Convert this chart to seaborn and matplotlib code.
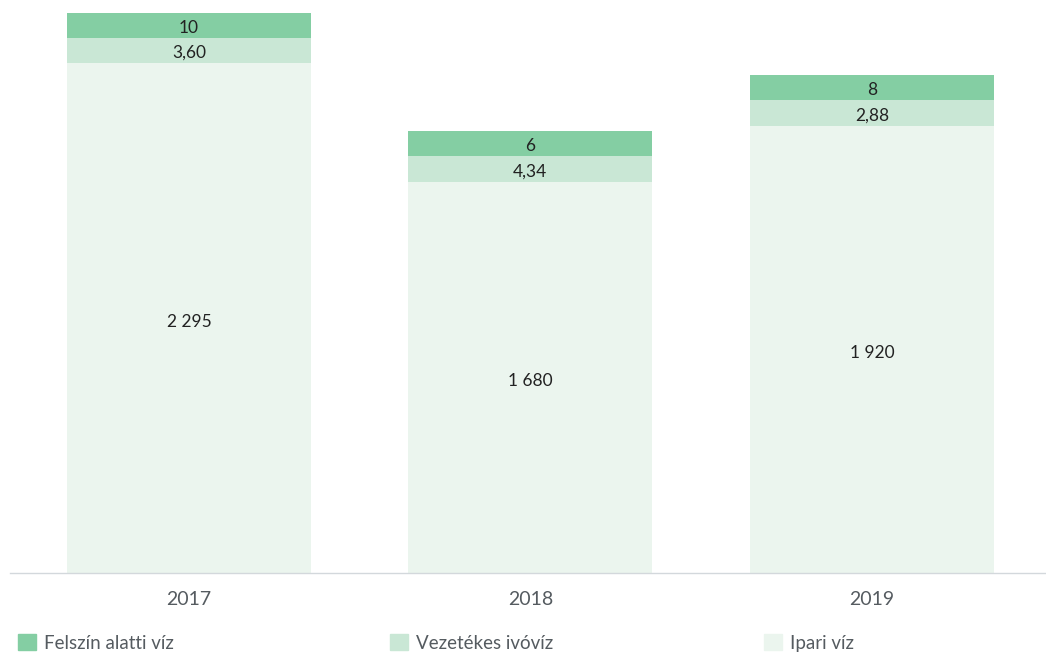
import matplotlib
matplotlib.use("Agg")
import matplotlib.pyplot as plt
import matplotlib.patches as mpatches
import seaborn as sns
import pandas as pd

# Categories and series labels
years = ["2017", "2018", "2019"]
series_names = ["Felszín alatti víz", "Vezetékes ivóvíz", "Ipari víz"]

# Value labels shown in the chart
felszin_labels = ["10", "6", "8"]
vezetekes_labels = ["3,60", "4,34", "2,88"]
ipari_labels = ["2 295", "1 680", "1 920"]

# Displayed segment heights (in the chart's visual units)
ipari_heights = [2295, 1760, 2012]
vezetekes_heights = [113, 117, 117]
felszin_heights = [113, 113, 113]

colors = {"Felszín alatti víz": "#84CEA3", "Vezetékes ivóvíz": "#C9E7D5", "Ipari víz": "#EBF5EE"}

sns.set_theme(style="white")
plt.rcParams["font.family"] = ["Lato", "DejaVu Sans"]

df = pd.DataFrame({
    "year": years,
    "ipari": ipari_heights,
    "vezetekes": vezetekes_heights,
    "felszin": felszin_heights,
})
df["b2"] = df["ipari"]
df["b3"] = df["ipari"] + df["vezetekes"]

fig = plt.figure(figsize=(10.46, 6.55), dpi=100)
ax = fig.add_axes([10 / 1046, 82 / 655, 1036 / 1046, 573 / 655])

bw = 0.714
sns.barplot(data=df, x="year", y="ipari", color=colors["Ipari víz"], width=bw,
            saturation=1, ax=ax, order=years, linewidth=0, edgecolor="none")
sns.barplot(data=df, x="year", y="vezetekes", bottom=df["b2"], color=colors["Vezetékes ivóvíz"],
            width=bw, saturation=1, ax=ax, order=years, linewidth=0, edgecolor="none")
sns.barplot(data=df, x="year", y="felszin", bottom=df["b3"], color=colors["Felszín alatti víz"],
            width=bw, saturation=1, ax=ax, order=years, linewidth=0, edgecolor="none")

for i in range(len(years)):
    ax.text(i, ipari_heights[i] / 2 - 18, ipari_labels[i], ha="center", va="center",
            fontsize=12.5, color="#222222")
    ax.text(i, df["b2"][i] + vezetekes_heights[i] / 2 - 12, vezetekes_labels[i], ha="center",
            va="center", fontsize=12.5, color="#222222")
    ax.text(i, df["b3"][i] + felszin_heights[i] / 2 - 12, felszin_labels[i], ha="center",
            va="center", fontsize=12.5, color="#222222")

ax.set_ylim(0, 2578.5)
ax.set_xlim(-0.524, 2.51)
ax.set_xlabel("")
ax.set_ylabel("")
ax.set_yticks([])
for s in ["top", "right", "left"]:
    ax.spines[s].set_visible(False)
ax.spines["bottom"].set_color("#D3D8DC")
ax.spines["bottom"].set_linewidth(1)
ax.tick_params(axis="x", length=0, pad=13, labelsize=14, labelcolor="#555B60")

# Legend: three entries at fixed positions along the bottom
legend_x = [18, 390, 764]
for name, lx in zip(series_names, legend_x):
    h = mpatches.Patch(color=colors[name], label=name)
    lg = fig.legend(handles=[h], loc="center left",
                    bbox_to_anchor=(lx / 1046, 1 - 643 / 655), frameon=False,
                    fontsize=13.5, handlelength=0.95, handleheight=0.95,
                    handletextpad=0.45, borderpad=0, borderaxespad=0)
    for t in lg.get_texts():
        t.set_color("#555B60")

fig.savefig("out.png", dpi=100)
